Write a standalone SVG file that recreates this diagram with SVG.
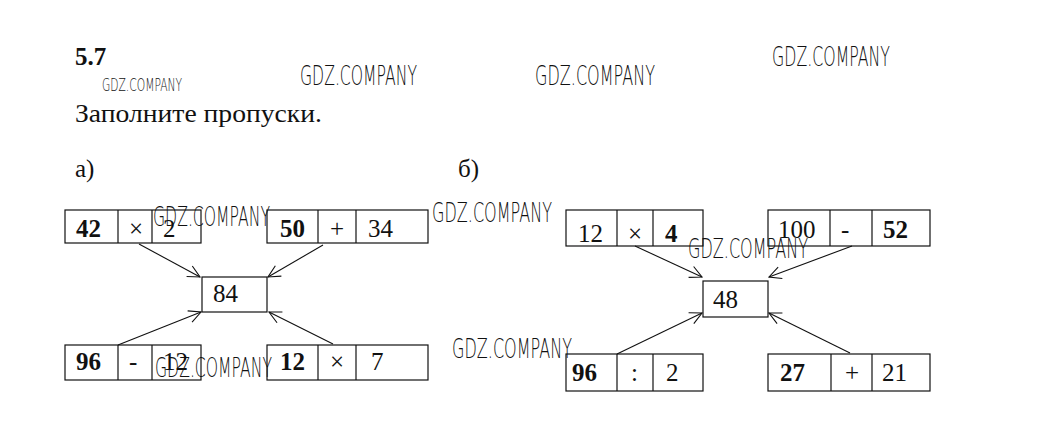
<svg xmlns="http://www.w3.org/2000/svg" width="1041" height="443" viewBox="0 0 1041 443">
<style>
  .bg{fill:#ffffff}
  .cell{fill:none;stroke:#111;stroke-width:1.2}
  .t{font-family:"Liberation Serif","Times New Roman",serif;font-size:25px;fill:#111}
  .b{font-weight:bold}
  .wm{font-family:"DejaVu Sans","Liberation Sans",sans-serif;font-weight:200;font-size:26px;fill:#111}
  .wms{font-size:18px}
  .conn line{stroke:#111;stroke-width:1.1;marker-end:url(#arr)}
</style>
<defs>
  <marker id="arr" markerUnits="userSpaceOnUse" markerWidth="14" markerHeight="14" viewBox="0 0 14 14" refX="13" refY="7" orient="auto">
    <path d="M1,1 L13,7 L1,13" fill="none" stroke="#111" stroke-width="1.1"/>
  </marker>
</defs>
<rect class="bg" x="0" y="0" width="1041" height="443"/>

<g id="title">
  <text class="t b" x="75" y="65">5.7</text>
  <text class="t" x="75" y="122" font-size="26" textLength="247" lengthAdjust="spacingAndGlyphs">Заполните пропуски.</text>
  <text class="t" x="75" y="177" font-size="27">а)</text>
  <text class="t" x="458" y="177" font-size="27">б)</text>
</g>

<!-- part a -->
<g id="a-top-left">
  <rect class="cell" x="65" y="210" width="136" height="33"/>
  <line class="cell" x1="118" y1="210" x2="118" y2="243"/>
  <line class="cell" x1="152" y1="210" x2="152" y2="243"/>
  <text class="t b" x="76" y="237">42</text>
  <text class="t" x="129" y="237">×</text>
  <text class="t" x="163" y="237">2</text>
</g>
<g id="a-top-right">
  <rect class="cell" x="267" y="210" width="161" height="33"/>
  <line class="cell" x1="318" y1="210" x2="318" y2="243"/>
  <line class="cell" x1="356" y1="210" x2="356" y2="243"/>
  <text class="t b" x="280" y="237">50</text>
  <text class="t" x="330" y="237">+</text>
  <text class="t" x="368" y="237">34</text>
</g>
<g id="a-center">
  <rect class="cell" x="202" y="277" width="65" height="35"/>
  <text class="t" x="213" y="302">84</text>
</g>
<g id="a-bottom-left">
  <rect class="cell" x="65" y="345" width="136" height="35"/>
  <line class="cell" x1="118" y1="345" x2="118" y2="380"/>
  <line class="cell" x1="152" y1="345" x2="152" y2="380"/>
  <text class="t b" x="76" y="370">96</text>
  <text class="t" x="129" y="370">-</text>
  <text class="t" x="163" y="370">12</text>
</g>
<g id="a-bottom-right">
  <rect class="cell" x="267" y="345" width="161" height="35"/>
  <line class="cell" x1="318" y1="345" x2="318" y2="380"/>
  <line class="cell" x1="356" y1="345" x2="356" y2="380"/>
  <text class="t b" x="280" y="370">12</text>
  <text class="t" x="330" y="370">×</text>
  <text class="t" x="371" y="370">7</text>
</g>

<!-- part b -->
<g id="b-top-left">
  <rect class="cell" x="566" y="210" width="137" height="36"/>
  <line class="cell" x1="617" y1="210" x2="617" y2="246"/>
  <line class="cell" x1="653" y1="210" x2="653" y2="246"/>
  <text class="t" x="578" y="242">12</text>
  <text class="t" x="628" y="242">×</text>
  <text class="t b" x="665" y="242">4</text>
</g>
<g id="b-top-right">
  <rect class="cell" x="768" y="210" width="162" height="36"/>
  <line class="cell" x1="830" y1="210" x2="830" y2="246"/>
  <line class="cell" x1="872" y1="210" x2="872" y2="246"/>
  <text class="t" x="778" y="238">100</text>
  <text class="t" x="841" y="238">-</text>
  <text class="t b" x="883" y="238">52</text>
</g>
<g id="b-center">
  <rect class="cell" x="703" y="281" width="65" height="36"/>
  <text class="t" x="713" y="308">48</text>
</g>
<g id="b-bottom-left">
  <rect class="cell" x="566" y="354" width="137" height="37"/>
  <line class="cell" x1="617" y1="354" x2="617" y2="391"/>
  <line class="cell" x1="653" y1="354" x2="653" y2="391"/>
  <text class="t b" x="572" y="381">96</text>
  <text class="t" x="631" y="381">:</text>
  <text class="t" x="666" y="381">2</text>
</g>
<g id="b-bottom-right">
  <rect class="cell" x="768" y="354" width="162" height="37"/>
  <line class="cell" x1="831" y1="354" x2="831" y2="391"/>
  <line class="cell" x1="872" y1="354" x2="872" y2="391"/>
  <text class="t b" x="780" y="381">27</text>
  <text class="t" x="845" y="381">+</text>
  <text class="t" x="882" y="381">21</text>
</g>

<g id="connectors" class="conn">
  <line x1="139" y1="244" x2="200" y2="277"/>
  <line x1="323" y1="245" x2="268" y2="277"/>
  <line x1="118" y1="345" x2="201" y2="312"/>
  <line x1="333" y1="344" x2="269" y2="312"/>
  <line x1="635" y1="246" x2="702" y2="277"/>
  <line x1="852" y1="246" x2="769" y2="277"/>
  <line x1="617" y1="354" x2="702" y2="313"/>
  <line x1="850" y1="353" x2="769" y2="313"/>
</g>

<g id="watermarks">
  <text class="wm wms" x="102" y="91" textLength="80" lengthAdjust="spacingAndGlyphs">GDZ.COMPANY</text>
  <text class="wm" x="300" y="85" textLength="117" lengthAdjust="spacingAndGlyphs">GDZ.COMPANY</text>
  <text class="wm" x="535" y="85" textLength="120" lengthAdjust="spacingAndGlyphs">GDZ.COMPANY</text>
  <text class="wm" x="772" y="66" textLength="118" lengthAdjust="spacingAndGlyphs">GDZ.COMPANY</text>
  <text class="wm" x="153" y="226" textLength="117" lengthAdjust="spacingAndGlyphs">GDZ.COMPANY</text>
  <text class="wm" x="432" y="222" textLength="120" lengthAdjust="spacingAndGlyphs">GDZ.COMPANY</text>
  <text class="wm" x="688" y="258" textLength="120" lengthAdjust="spacingAndGlyphs">GDZ.COMPANY</text>
  <text class="wm" x="452" y="358" textLength="120" lengthAdjust="spacingAndGlyphs">GDZ.COMPANY</text>
  <text class="wm" x="155" y="377" textLength="117" lengthAdjust="spacingAndGlyphs">GDZ.COMPANY</text>
</g>
</svg>
